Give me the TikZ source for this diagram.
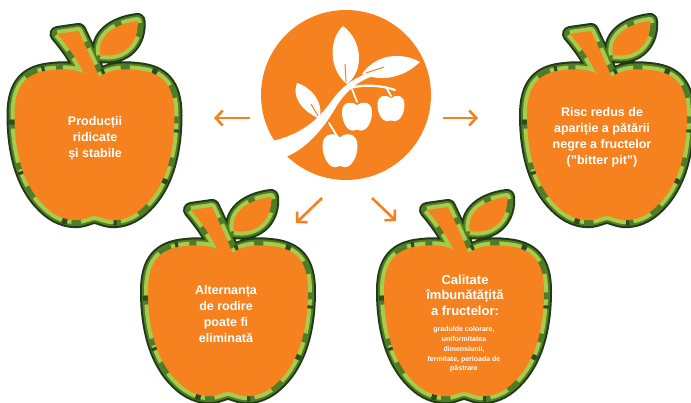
\documentclass[tikz,border=0pt]{standalone}
\usepackage{fontspec}
\setmainfont{Liberation Sans}
\usetikzlibrary{arrows.meta}

\definecolor{fruit}{HTML}{F5821F}
\definecolor{rinddark}{HTML}{1F3A17}
\definecolor{rindmid}{HTML}{4F7D27}
\definecolor{rindlight}{HTML}{A9CB4C}
\definecolor{rindspot}{HTML}{2C4C1D}

% outline of an apple body, stem and leaf (origin: top centre, y downwards)
\newcommand{\bodyp}{(0,67) .. controls (-12,57) and (-26,55) .. (-42,57) .. controls (-68,59) and (-80,72) .. (-80,102) .. controls (-80,138) and (-72,172) .. (-50,193) .. controls (-40,203) and (-28,208) .. (-16,207) .. controls (-8,206) and (-4,203) .. (0,203) .. controls (4,203) and (8,206) .. (16,207) .. controls (28,208) and (40,203) .. (50,193) .. controls (72,172) and (80,138) .. (80,102) .. controls (80,72) and (68,59) .. (42,57) .. controls (26,55) and (12,57) .. (0,67) -- cycle}
\newcommand{\stemp}{(-37,21) -- (-16,18) .. controls (-8,35) and (0,52) .. (6,68) -- (-7,68) .. controls (-14,52) and (-24,36) .. (-37,21) -- cycle}
\newcommand{\leafp}{(6,42) .. controls (2,25) and (18,11) .. (43,8) .. controls (45,28) and (31,46) .. (6,42) -- cycle}
% small white fruit of the emblem (unit size)
\newcommand{\fruitlet}{(0,-0.72) .. controls (-0.3,-1.02) and (-1,-1) .. (-1,-0.25) .. controls (-1,0.45) and (-0.62,0.98) .. (-0.3,0.98) .. controls (-0.15,0.98) and (-0.1,0.92) .. (0,0.92) .. controls (0.1,0.92) and (0.15,0.98) .. (0.3,0.98) .. controls (0.62,0.98) and (1,0.45) .. (1,-0.25) .. controls (1,-1) and (0.3,-1.02) .. (0,-0.72) -- cycle}

\tikzset{
  apple/.pic={
    \draw[rinddark, line width=16pt, line join=round] \bodyp \stemp \leafp;
    \draw[rindmid, line width=12pt, line join=round] \bodyp \stemp \leafp;
    \draw[rindlight, line width=8pt, line join=round,
          dash pattern=on 34pt off 7pt on 18pt off 13pt on 44pt off 9pt] \bodyp \stemp \leafp;
    \draw[rindspot, line width=11pt,
          dash pattern=on 5pt off 47pt on 3pt off 61pt] \bodyp;
    \fill[fruit] \bodyp;
    \fill[fruit] \stemp;
    \fill[fruit] \leafp;
  },
  bigtext/.style={text=white, align=center, inner sep=0pt,
    font=\fontsize{12.5}{16}\selectfont\bfseries},
  smalltext/.style={text=white, align=center, inner sep=0pt,
    font=\fontsize{7}{9.7}\selectfont\bfseries},
  flow/.style={draw=fruit, line width=2.6pt,
    -{Straight Barb[length=7pt,width=15pt]}},
}

\begin{document}
\begin{tikzpicture}[x=1pt, y=-1pt]
\useasboundingbox (0,0) rectangle (691,403);

% four apples
\pic (a1) at (94.5,13) {apple};
\pic (a2) at (607,13) {apple};
\begin{scope}[shift={(228,189)}, xscale=-1]
  \pic (a3) {apple};
\end{scope}
\begin{scope}[shift={(464,189)}, xscale=-1]
  \pic (a4) {apple};
\end{scope}

% central emblem
\node[circle, fill=fruit, minimum size=170pt, inner sep=0pt] (hub) at (346,95) {};
% branch
\fill[white] (272,141) .. controls (300,135) and (318,120) .. (330,103)
  .. controls (342,86) and (355,76) .. (378,70)
  -- (379,74) .. controls (358,80) and (346,91) .. (336,107)
  .. controls (324,128) and (306,150) .. (283,158) -- cycle;
% twig and fruit stalks
\draw[white, line width=2.2pt, line cap=round] (346,89) .. controls (362,84) and (380,85) .. (395,90);
\draw[white, line width=1.8pt, line cap=round] (352,89) -- (357,102);
\draw[white, line width=1.8pt, line cap=round] (386,87) -- (391,96);
\draw[white, line width=1.8pt, line cap=round] (329,123) -- (337,136);
% leaves
\fill[white] (347,84) .. controls (329,70) and (328,40) .. (343,26) .. controls (362,40) and (365,70) .. (347,84) -- cycle;
\fill[white] (362,74) .. controls (375,55) and (400,51) .. (420,62) .. controls (405,76) and (385,83) .. (362,74) -- cycle;
\fill[white] (320,119) .. controls (300,110) and (292,96) .. (297,83) .. controls (312,88) and (323,101) .. (320,119) -- cycle;
\draw[fruit, line width=1pt] (346,82) -- (345,64);
\draw[fruit, line width=1pt] (366,73) -- (384,67);
\draw[fruit, line width=1pt] (318,116) -- (311,104);
% fruit
\fill[white, shift={(357,116)}, scale=15] \fruitlet;
\fill[white, shift={(391,108)}, scale=13.5] \fruitlet;
\fill[white, shift={(340,150)}, scale=17.5] \fruitlet;

% arrows
\coordinate (l0) at (250,118); \coordinate (l1) at (214,118);
\coordinate (r0) at (443,118); \coordinate (r1) at (478,118);
\coordinate (d0) at (322,198); \coordinate (d1) at (296,223);
\coordinate (e0) at (372,198); \coordinate (e1) at (396,221);
\draw[flow] (l0) -- (l1);
\draw[flow] (r0) -- (r1);
\draw[flow] (d0) -- (d1);
\draw[flow] (e0) -- (e1);

% labels
\node[bigtext] (t1) at (95,138) {Producții\\ridicate\\și stabile};
\node[bigtext] (t2) at (602,137.5) {Risc redus de\\apariție a pătării\\negre a fructelor\\(”bitter pit”)};
\node[bigtext] (t3) at (226,314) {Alternanța\\de rodire\\poate fi\\eliminată};
\node[bigtext, font=\fontsize{13}{15.5}\selectfont\bfseries] (t4) at (465,295) {Calitate\\îmbunătățită\\a fructelor:};
\node[smalltext] (t5) at (464,349.5) {gradulde colorare,\\uniformitatea\\dimensiunii,\\fermitate, perioada de\\păstrare};
\end{tikzpicture}
\end{document}
